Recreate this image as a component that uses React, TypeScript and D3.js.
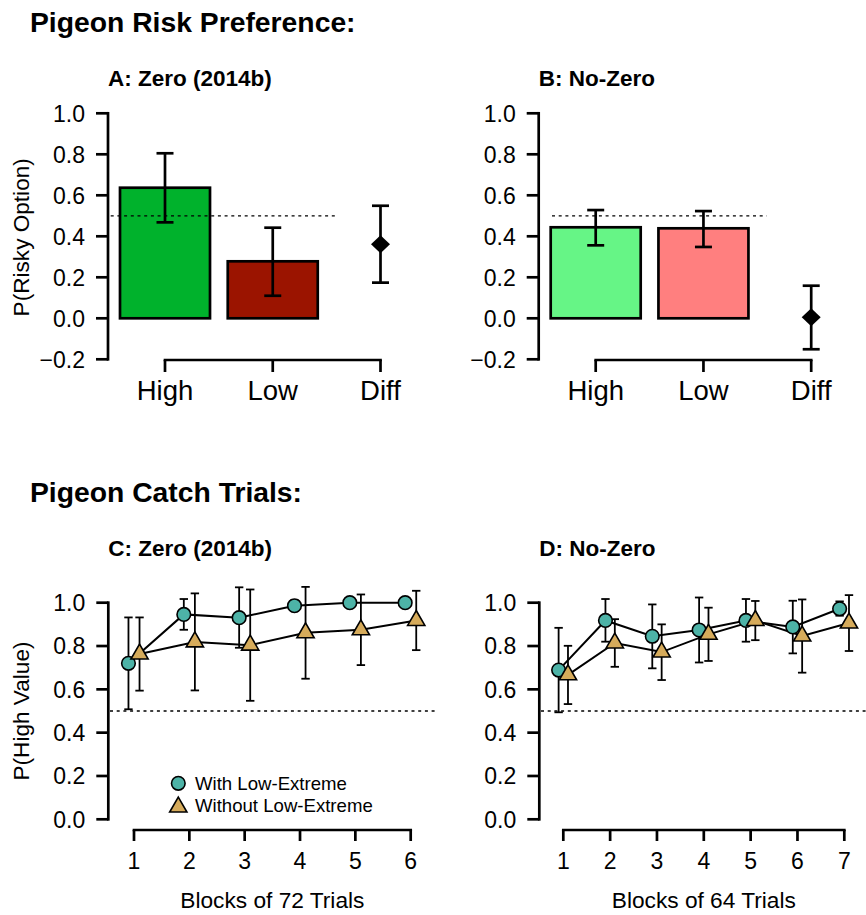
import React from "react";
import * as d3 from "d3";

// ---------- Data ----------
const topCategories = ["High", "Low", "Diff"];
const topYTicks = [-0.2, 0, 0.2, 0.4, 0.6, 0.8, 1.0];

const zeroMeans = [0.637, 0.278, 0.361];
const zeroLower = [0.468, 0.11, 0.174];
const zeroUpper = [0.805, 0.442, 0.549];

const noZeroMeans = [0.444, 0.439, 0.005];
const noZeroLower = [0.356, 0.348, -0.151];
const noZeroUpper = [0.528, 0.523, 0.159];

const bottomYTicks = [0, 0.2, 0.4, 0.6, 0.8, 1.0];

const blocksZero = [1, 2, 3, 4, 5, 6];
const zeroWithMeans = [0.72, 0.946, 0.931, 0.986, 1.0, 1.0];
const zeroWithLower = [0.508, 0.875, 0.792, 0.961, 1.0, 1.0];
const zeroWithUpper = [0.932, 1.017, 1.071, 1.011, 1.0, 1.0];
const zeroWithoutMeans = [0.763, 0.819, 0.804, 0.861, 0.875, 0.918];
const zeroWithoutLower = [0.594, 0.595, 0.547, 0.649, 0.712, 0.781];
const zeroWithoutUpper = [0.932, 1.043, 1.061, 1.073, 1.038, 1.055];

const blocksNoZero = [1, 2, 3, 4, 5, 6, 7];
const noZeroWithMeans = [0.689, 0.918, 0.845, 0.874, 0.918, 0.888, 0.972];
const noZeroWithLower = [0.494, 0.82, 0.697, 0.724, 0.82, 0.766, 0.94];
const noZeroWithUpper = [0.884, 1.017, 0.992, 1.024, 1.017, 1.009, 1.006];
const noZeroWithoutMeans = [0.667, 0.814, 0.772, 0.854, 0.918, 0.846, 0.906];
const noZeroWithoutLower = [0.532, 0.704, 0.643, 0.731, 0.827, 0.677, 0.777];
const noZeroWithoutUpper = [0.801, 0.924, 0.9, 0.977, 1.008, 1.015, 1.035];

const legendLabels = ["With Low-Extreme", "Without Low-Extreme"];

// ---------- Styles ----------
const FONT = "'Liberation Sans', Arial, Helvetica, sans-serif";
const TEAL = "#4DB3A7";
const TAN = "#D6AB5B";
const fmt = d3.format(".1f");

function diamondPath(cx: number, cy: number, rx: number, ry: number) {
  return `M${cx},${cy - ry}L${cx + rx},${cy}L${cx},${cy + ry}L${cx - rx},${cy}Z`;
}

function trianglePath(cx: number, cy: number, s: number) {
  const r = 1.5551 * s;
  const xc = 1.3468 * s;
  const yc = 0.7776 * s;
  return `M${cx},${cy - r}L${cx + xc},${cy + yc}L${cx - xc},${cy + yc}Z`;
}

type TopProps = {
  ox: number;
  title: string;
  means: number[];
  lower: number[];
  upper: number[];
  colors: string[];
  dash: [number, number];
  ylabel?: string;
};

function TopPanel({ ox, title, means, lower, upper, colors, dash, ylabel }: TopProps) {
  const x = d3.scalePoint<string>().domain(topCategories).range([ox + 57, ox + 272.5]);
  const y = d3.scaleLinear().domain([-0.2, 1.0]).range([359.3, 113.3]);
  const barW = 90;
  return (
    <g>
      <text x={ox} y={86} fontFamily={FONT} fontWeight="bold" fontSize={22.5}>
        {title}
      </text>
      {ylabel && (
        <text
          transform={`translate(29,${(y(-0.2) + y(1.0)) / 2 + 1}) rotate(-90)`}
          textAnchor="middle"
          fontFamily={FONT}
          fontSize={22.6}
        >
          {ylabel}
        </text>
      )}
      {/* y axis */}
      <line x1={ox} x2={ox} y1={y(1.0)} y2={y(-0.2)} stroke="#000" strokeWidth={2.7} strokeLinecap="square" />
      {topYTicks.map((t) => (
        <g key={t}>
          <line x1={ox - 12} x2={ox} y1={y(t)} y2={y(t)} stroke="#000" strokeWidth={2.7} />
          <text x={ox - 23} y={y(t)} dy="0.36em" textAnchor="end" fontFamily={FONT} fontSize={23}>
            {fmt(t)}
          </text>
        </g>
      ))}
      {/* bars */}
      {topCategories.slice(0, 2).map((c, i) => (
        <rect
          key={c}
          x={(x(c) as number) - barW / 2}
          y={y(means[i])}
          width={barW}
          height={y(0) - y(means[i])}
          fill={colors[i]}
          stroke="#000"
          strokeWidth={2.7}
        />
      ))}
      {/* reference line */}
      <line x1={dash[0]} x2={dash[1]} y1={y(0.5)} y2={y(0.5)} stroke="#000" strokeWidth={1.3} strokeDasharray="3 3.7" />
      {/* error bars */}
      {topCategories.map((c, i) => {
        const cx = x(c) as number;
        return (
          <g key={c} stroke="#000" strokeWidth={2.7}>
            <line x1={cx} x2={cx} y1={y(upper[i])} y2={y(lower[i])} />
            <line x1={cx - 8.5} x2={cx + 8.5} y1={y(upper[i])} y2={y(upper[i])} />
            <line x1={cx - 8.5} x2={cx + 8.5} y1={y(lower[i])} y2={y(lower[i])} />
          </g>
        );
      })}
      <path d={diamondPath(x("Diff") as number, y(means[2]), 9.5, 9)} fill="#000" />
      {/* x axis */}
      <line x1={x("High")} x2={x("Diff")} y1={360} y2={360} stroke="#000" strokeWidth={2.7} strokeLinecap="square" />
      {topCategories.map((c) => (
        <g key={c}>
          <line x1={x(c)} x2={x(c)} y1={360} y2={372} stroke="#000" strokeWidth={2.7} />
          <text x={x(c)} y={400} textAnchor="middle" fontFamily={FONT} fontSize={27.5}>
            {c}
          </text>
        </g>
      ))}
    </g>
  );
}

type BottomProps = {
  ox: number;
  title: string;
  blocks: number[];
  range: [number, number];
  withM: number[];
  withL: number[];
  withU: number[];
  withoutM: number[];
  withoutL: number[];
  withoutU: number[];
  dash: [number, number];
  xlabel: string;
  ylabel?: string;
  legend?: boolean;
};

function BottomPanel(p: BottomProps) {
  const { ox, blocks } = p;
  const x = d3.scaleLinear().domain([1, blocks.length]).range(p.range);
  const y = d3.scaleLinear().domain([0, 1]).range([819.3, 602.7]);
  const off = 0.1;
  const lineGen = (vals: number[], dx: number) =>
    d3
      .line<number>()
      .x((_, i) => x(blocks[i] + dx))
      .y((v) => y(v))(vals) as string;
  const errBars = (m: number[], l: number[], u: number[], dx: number, key: string) =>
    m.map((_, i) => {
      const cx = x(blocks[i] + dx);
      if (Math.abs(u[i] - l[i]) < 1e-6) return null;
      return (
        <g key={key + i} stroke="#000" strokeWidth={1.8}>
          <line x1={cx} x2={cx} y1={y(u[i])} y2={y(l[i])} />
          <line x1={cx - 4.2} x2={cx + 4.2} y1={y(u[i])} y2={y(u[i])} />
          <line x1={cx - 4.2} x2={cx + 4.2} y1={y(l[i])} y2={y(l[i])} />
        </g>
      );
    });
  return (
    <g>
      <text x={ox} y={556} fontFamily={FONT} fontWeight="bold" fontSize={22.5}>
        {p.title}
      </text>
      {p.ylabel && (
        <text
          transform={`translate(29,${(y(0) + y(1)) / 2}) rotate(-90)`}
          textAnchor="middle"
          fontFamily={FONT}
          fontSize={22.6}
        >
          {p.ylabel}
        </text>
      )}
      <line x1={p.dash[0]} x2={p.dash[1]} y1={y(0.5)} y2={y(0.5)} stroke="#000" strokeWidth={1.3} strokeDasharray="3 3.7" />
      {/* y axis */}
      <line x1={ox} x2={ox} y1={y(1)} y2={y(0)} stroke="#000" strokeWidth={2.7} strokeLinecap="square" />
      {bottomYTicks.map((t) => (
        <g key={t}>
          <line x1={ox - 12} x2={ox} y1={y(t)} y2={y(t)} stroke="#000" strokeWidth={2.7} />
          <text x={ox - 23} y={y(t)} dy="0.36em" textAnchor="end" fontFamily={FONT} fontSize={23}>
            {fmt(t)}
          </text>
        </g>
      ))}
      {/* x axis */}
      <line x1={p.range[0]} x2={p.range[1]} y1={830} y2={830} stroke="#000" strokeWidth={2.7} strokeLinecap="square" />
      {blocks.map((b) => (
        <g key={b}>
          <line x1={x(b)} x2={x(b)} y1={830} y2={841} stroke="#000" strokeWidth={2.7} />
          <text x={x(b)} y={869} textAnchor="middle" fontFamily={FONT} fontSize={23}>
            {b}
          </text>
        </g>
      ))}
      <text x={(p.range[0] + p.range[1]) / 2} y={908} textAnchor="middle" fontFamily={FONT} fontSize={22.7}>
        {p.xlabel}
      </text>
      {/* error bars */}
      {errBars(p.withM, p.withL, p.withU, -off, "w")}
      {errBars(p.withoutM, p.withoutL, p.withoutU, off, "wo")}
      {/* lines */}
      <path d={lineGen(p.withM, -off)} fill="none" stroke="#000" strokeWidth={2} />
      <path d={lineGen(p.withoutM, off)} fill="none" stroke="#000" strokeWidth={2} />
      {/* markers */}
      {p.withM.map((v, i) => (
        <circle key={"c" + i} cx={x(blocks[i] - off)} cy={y(v)} r={6.8} fill={TEAL} stroke="#000" strokeWidth={1.6} />
      ))}
      {p.withoutM.map((v, i) => (
        <path key={"t" + i} d={trianglePath(x(blocks[i] + off), y(v), 6.4)} fill={TAN} stroke="#000" strokeWidth={1.6} strokeLinejoin="miter" />
      ))}
      {p.legend && (
        <g>
          <circle cx={178.3} cy={783.3} r={6.8} fill={TEAL} stroke="#000" strokeWidth={1.6} />
          <path d={trianglePath(178.3, 807, 6.4)} fill={TAN} stroke="#000" strokeWidth={1.6} />
          <text x={195} y={783.3} dy="0.36em" fontFamily={FONT} fontSize={18.6}>
            {legendLabels[0]}
          </text>
          <text x={195} y={805.5} dy="0.36em" fontFamily={FONT} fontSize={18.6}>
            {legendLabels[1]}
          </text>
        </g>
      )}
    </g>
  );
}

export default function App() {
  return (
    <svg
      width={866}
      height={915}
      viewBox="0 0 866 915"
      style={{ position: "absolute", left: 0, top: 0, background: "#fff" }}
    >
      <rect x={0} y={0} width={866} height={915} fill="#fff" />
      <text x={30} y={32} fontFamily={FONT} fontWeight="bold" fontSize={28.3}>
        Pigeon Risk Preference:
      </text>
      <text x={30} y={502} fontFamily={FONT} fontWeight="bold" fontSize={28.3}>
        Pigeon Catch Trials:
      </text>
      <TopPanel
        ox={108}
        title="A: Zero (2014b)"
        means={zeroMeans}
        lower={zeroLower}
        upper={zeroUpper}
        colors={["#00B22C", "#9B1400"]}
        dash={[110.7, 336.7]}
        ylabel="P(Risky Option)"
      />
      <TopPanel
        ox={538.7}
        title="B: No-Zero"
        means={noZeroMeans}
        lower={noZeroLower}
        upper={noZeroUpper}
        colors={["#66F586", "#FF7F7F"]}
        dash={[552, 766.7]}
      />
      <BottomPanel
        ox={108.3}
        title="C: Zero (2014b)"
        blocks={blocksZero}
        range={[134, 410.7]}
        withM={zeroWithMeans}
        withL={zeroWithLower}
        withU={zeroWithUpper}
        withoutM={zeroWithoutMeans}
        withoutL={zeroWithoutLower}
        withoutU={zeroWithoutUpper}
        dash={[110, 435]}
        xlabel="Blocks of 72 Trials"
        ylabel="P(High Value)"
        legend
      />
      <BottomPanel
        ox={539.3}
        title="D: No-Zero"
        blocks={blocksNoZero}
        range={[563.3, 844.3]}
        withM={noZeroWithMeans}
        withL={noZeroWithLower}
        withU={noZeroWithUpper}
        withoutM={noZeroWithoutMeans}
        withoutL={noZeroWithoutLower}
        withoutU={noZeroWithoutUpper}
        dash={[541, 866]}
        xlabel="Blocks of 64 Trials"
      />
    </svg>
  );
}
